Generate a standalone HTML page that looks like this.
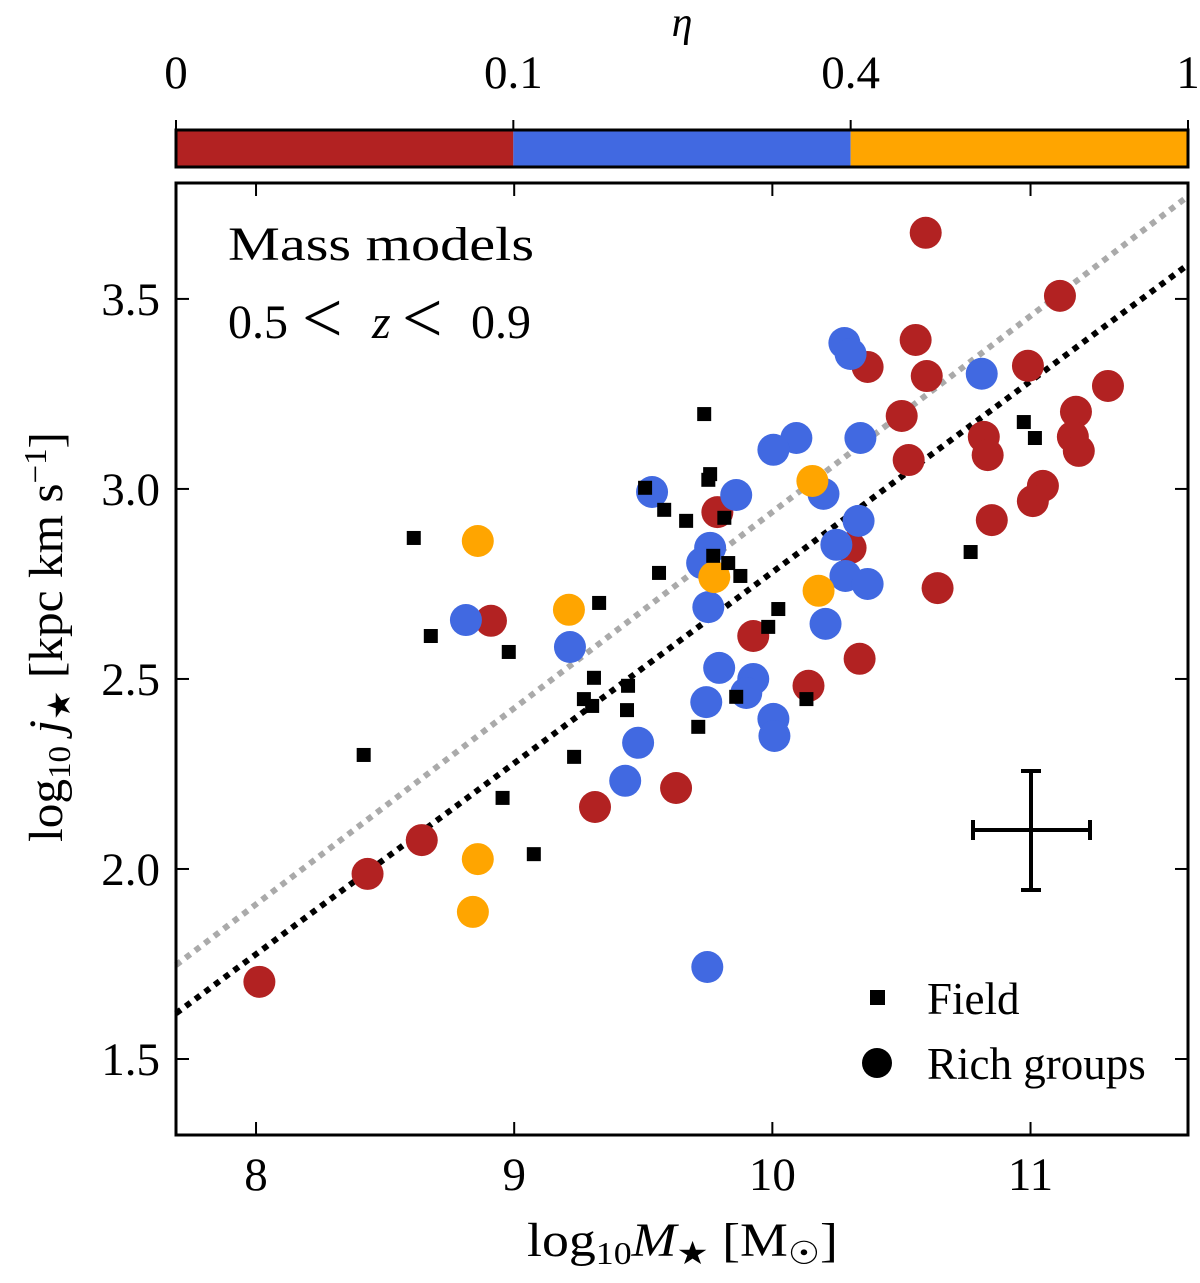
<!DOCTYPE html>
<html><head><meta charset="utf-8"><style>
html,body{margin:0;padding:0;background:#fff;}
svg text{font-family:"Liberation Serif",serif;fill:#000;}
</style></head><body>
<svg id="chart" width="1200" height="1278" viewBox="0 0 1200 1278" xmlns="http://www.w3.org/2000/svg">
<g id="cb"></g>
<g id="lines"></g>
<g id="pts"></g>
<g id="axes"></g>
</svg>
<script>
const xDomain=[7.69,11.61], yDomain=[1.30,3.805];
const xTicks=[8,9,10,11], yTicks=[1.5,2.0,2.5,3.0,3.5];
const yTickLabels=["1.5","2.0","2.5","3.0","3.5"];
const cbBounds=[0,0.1,0.4,1];
const cbColors=["#b22222","#4169e1","#ffa500"];
const fieldX=[9.736,9.752,9.759,9.507,9.581,9.666,9.814,8.611,9.771,9.829,9.876,9.561,9.329,8.677,8.979,10.023,9.984,9.309,9.270,9.302,9.441,9.437,9.713,9.860,10.132,9.232,8.417,8.955,9.076,10.768,10.974,11.017];
const fieldY=[3.197,3.024,3.039,3.003,2.945,2.916,2.924,2.871,2.824,2.805,2.771,2.779,2.700,2.613,2.571,2.684,2.637,2.503,2.447,2.429,2.482,2.418,2.374,2.453,2.447,2.295,2.300,2.187,2.039,2.834,3.176,3.134];
const redX=[10.594,11.114,10.555,10.598,10.369,10.501,10.528,10.990,11.300,11.176,10.819,10.834,11.164,11.187,11.048,11.009,10.850,10.640,9.787,10.303,9.926,10.140,10.338,9.627,9.313,8.642,8.432,8.013,8.91];
const redY=[3.674,3.508,3.392,3.297,3.321,3.192,3.076,3.324,3.271,3.203,3.137,3.089,3.137,3.100,3.008,2.968,2.918,2.739,2.939,2.845,2.613,2.482,2.553,2.213,2.163,2.076,1.987,1.703,2.653];
const blueX=[10.279,10.303,10.811,10.093,10.004,10.341,9.534,9.860,10.198,10.334,9.759,9.728,10.248,10.283,10.369,9.752,10.206,9.794,9.926,9.899,9.744,10.004,10.008,9.480,9.430,9.216,8.813,9.748];
const blueY=[3.384,3.355,3.303,3.134,3.103,3.134,2.992,2.984,2.987,2.916,2.845,2.805,2.853,2.771,2.750,2.689,2.645,2.529,2.500,2.463,2.439,2.395,2.350,2.332,2.232,2.584,2.655,1.742];
const orangeX=[8.859,9.212,10.155,9.775,10.179,8.859,8.840];
const orangeY=[2.863,2.682,3.021,2.768,2.732,2.026,1.887];
const fitBlack=[1.62,3.59], fitGray=[1.747,3.77];
const L=176,R=1188,T=183,B=1135;
const sx=v=>L+(v-xDomain[0])/(xDomain[1]-xDomain[0])*(R-L);
const sy=v=>B-(v-yDomain[0])/(yDomain[1]-yDomain[0])*(B-T);
const NS="http://www.w3.org/2000/svg";
function mk(tag,attrs,parent,txt){const e=document.createElementNS(NS,tag);for(const k in attrs)e.setAttribute(k,attrs[k]);if(txt!==undefined)e.textContent=txt;parent.appendChild(e);return e;}
const cb=document.getElementById('cb');
const cbx=v=>L+cbBounds.indexOf(v)/(cbBounds.length-1)*(R-L);
for(let i=0;i<cbColors.length;i++){
 const r=mk('rect',{x:cbx(cbBounds[i]),y:130,width:cbx(cbBounds[i+1])-cbx(cbBounds[i]),height:37,fill:cbColors[i]},cb);
 
 
}
mk('rect',{x:L,y:130,width:R-L,height:37,fill:'none',stroke:'#000','stroke-width':3},cb);
cbBounds.forEach(b=>{
 const t=mk('text',{x:cbx(b),y:88,'font-size':47,'text-anchor':'middle'},cb,String(b));
 
 
 mk('line',{x1:cbx(b),y1:130,x2:cbx(b),y2:120,stroke:'#000','stroke-width':2},cb);
});
const eta=mk('text',{x:682,y:36,'font-size':42,'font-style':'italic','text-anchor':'middle'},cb,'η');


const ln=document.getElementById('lines');
const g1=mk('line',{x1:sx(xDomain[0]),y1:sy(fitGray[0]),x2:sx(xDomain[1]),y2:sy(fitGray[1]),stroke:'#aaaaaa','stroke-width':6,'stroke-dasharray':'6 6'},ln);


const b1=mk('line',{x1:sx(xDomain[0]),y1:sy(fitBlack[0]),x2:sx(xDomain[1]),y2:sy(fitBlack[1]),stroke:'#000','stroke-width':6,'stroke-dasharray':'6 6'},ln);


const pts=document.getElementById('pts');
[[redX,redY,cbColors[0],'red'],[blueX,blueY,cbColors[1],'blue'],[orangeX,orangeY,cbColors[2],'orange']].forEach(([xs,ys,c,n])=>{
 xs.forEach((x,i)=>{
  const e=mk('circle',{cx:sx(x),cy:sy(ys[i]),r:16,fill:c},pts);
  
  
 });
});
fieldX.forEach((x,i)=>{
 const e=mk('rect',{x:sx(x)-7,y:sy(fieldY[i])-7,width:14,height:14,fill:'#000'},pts);
 
 
});
const ax=document.getElementById('axes');
mk('rect',{x:L,y:T,width:R-L,height:B-T,fill:'none',stroke:'#000','stroke-width':3},ax);
xTicks.forEach(v=>{
 const x=sx(v);
 mk('line',{x1:x,y1:B,x2:x,y2:B-13,stroke:'#000','stroke-width':2},ax);
 mk('line',{x1:x,y1:T,x2:x,y2:T+13,stroke:'#000','stroke-width':2},ax);
 const t=mk('text',{x:x,y:1190,'font-size':47,'text-anchor':'middle'},ax,String(v));
 
 
});
yTicks.forEach((v,i)=>{
 const y=sy(v);
 mk('line',{x1:L,y1:y,x2:L+13,y2:y,stroke:'#000','stroke-width':2},ax);
 mk('line',{x1:R,y1:y,x2:R-13,y2:y,stroke:'#000','stroke-width':2},ax);
 const t=mk('text',{x:160,y:y+16,'font-size':47,'text-anchor':'end'},ax,yTickLabels[i]);
 
 
});
const eb=mk('g',{stroke:'#000','stroke-width':4},ax);


mk('line',{x1:973,y1:830,x2:1090,y2:830},eb);
mk('line',{x1:1031,y1:771,x2:1031,y2:890},eb);
mk('line',{x1:973,y1:820,x2:973,y2:840},eb);
mk('line',{x1:1090,y1:820,x2:1090,y2:840},eb);
mk('line',{x1:1021,y1:771,x2:1041,y2:771},eb);
mk('line',{x1:1021,y1:890,x2:1041,y2:890},eb);
</script>
<svg width="1200" height="1278" style="position:absolute;left:0;top:0" xmlns="http://www.w3.org/2000/svg">
<text x="228" y="260" font-size="48" textLength="306" lengthAdjust="spacingAndGlyphs">Mass models</text>
<text y="338" font-size="48"><tspan x="228">0.5</tspan><tspan x="302" y="342" font-size="72">&lt;</tspan><tspan x="372" y="338" font-style="italic">z</tspan><tspan x="402" y="342" font-size="72">&lt;</tspan><tspan x="471" y="338">0.9</tspan></text>
<g>
<rect x="870" y="990" width="15" height="15" fill="#000"/>
<text x="927" y="1014" font-size="45">Field</text>
<circle cx="877" cy="1063" r="15" fill="#000"/>
<text x="927" y="1079" font-size="45">Rich groups</text>
</g>
<text x="527" y="1256" font-size="48" textLength="311" lengthAdjust="spacingAndGlyphs">log<tspan font-size="32" dy="8">10</tspan><tspan dy="-8" font-style="italic">M</tspan><tspan font-size="32" dy="8">★</tspan><tspan dy="-8"> [M</tspan><tspan font-size="32" dy="8">☉</tspan><tspan dy="-8">]</tspan></text>
<text transform="translate(62,842) rotate(-90)" font-size="48" textLength="410" lengthAdjust="spacingAndGlyphs">log<tspan font-size="32" dy="8">10</tspan><tspan dy="-8" font-style="italic"> j</tspan><tspan font-size="32" dy="8">★</tspan><tspan dy="-8"> [kpc km s</tspan><tspan font-size="32" dy="-16">−1</tspan><tspan dy="16">]</tspan></text>
</svg>
</body></html>
